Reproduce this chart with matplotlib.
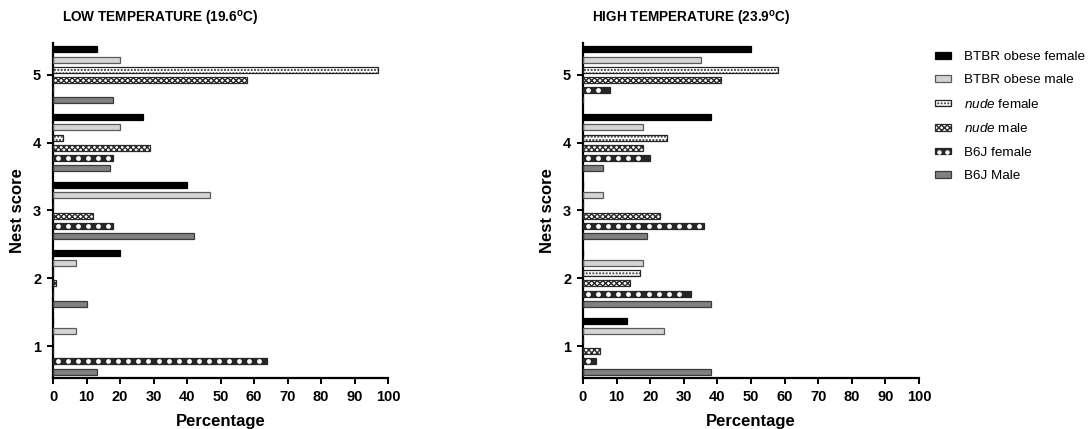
import matplotlib
matplotlib.use("Agg")
import matplotlib.pyplot as plt
import numpy as np
from matplotlib import rcParams
from matplotlib.patches import Patch
from matplotlib.lines import Line2D

rcParams['font.family'] = ['Liberation Sans', 'DejaVu Sans']
rcParams['mathtext.fontset'] = 'custom'
rcParams['mathtext.rm'] = 'Liberation Sans'
rcParams['mathtext.it'] = 'Liberation Sans:italic'
rcParams['mathtext.bf'] = 'Liberation Sans:bold'
rcParams['hatch.linewidth'] = 1.0

# nest scores (y categories)
scores = [1, 2, 3, 4, 5]

series_labels = ["BTBR obese female", "BTBR obese male", r"$\mathit{nude}$ female",
                 r"$\mathit{nude}$ male", "B6J female", "B6J Male"]

# percentages per score 1..5, low temperature (19.6 C)
low_btbr_f = [0, 20, 40, 27, 13]
low_btbr_m = [7, 7, 47, 20, 20]
low_nude_f = [0, 0, 0, 3, 97]
low_nude_m = [0, 1, 12, 29, 58]
low_b6j_f = [64, 0, 18, 18, 0]
low_b6j_m = [13, 10, 42, 17, 18]

# high temperature (23.9 C)
high_btbr_f = [13, 0, 0, 38, 50]
high_btbr_m = [24, 18, 6, 18, 35]
high_nude_f = [0, 17, 0, 25, 58]
high_nude_m = [5, 14, 23, 18, 41]
high_b6j_f = [4, 32, 36, 20, 8]
high_b6j_m = [38, 38, 19, 6, 0]

low_data = [low_btbr_f, low_btbr_m, low_nude_f, low_nude_m, low_b6j_f, low_b6j_m]
high_data = [high_btbr_f, high_btbr_m, high_nude_f, high_nude_m, high_b6j_f, high_b6j_m]

# styles: face, hatch, hatch colour, edge, white dots
styles = [
    dict(face='#000000', hatch=None, hcol='#000000', edge='#000000', dots=False),
    dict(face='#d4d4d4', hatch=None, hcol='#d4d4d4', edge='#5a5a5a', dots=False),
    dict(face='#ffffff', hatch='.....', hcol='#333333', edge='#222222', dots=False),
    dict(face='#ffffff', hatch='xxxxxx', hcol='#2a2a2a', edge='#2a2a2a', dots=False),
    dict(face='#262626', hatch=None, hcol='#262626', edge='#262626', dots=True),
    dict(face='#808080', hatch=None, hcol='#808080', edge='#3a3a3a', dots=False),
]

bar_h = 0.09
step = 0.15
dot_gap = 3.0  # spacing of the white dots along a bar (percent units)

fig = plt.figure(figsize=(10.9, 4.29), dpi=100)
ax_low = fig.add_axes([53 / 1090, 51 / 429, 335 / 1090, 335 / 429])
ax_high = fig.add_axes([583 / 1090, 51 / 429, 336 / 1090, 335 / 429])


def draw_panel(ax, data, title):
    y = np.array(scores, dtype=float)
    for i, (vals, st) in enumerate(zip(data, styles)):
        pos = y + (2.5 - i) * step
        vals = np.array(vals, dtype=float)
        ax.barh(pos, vals, height=bar_h, color=st['face'], hatch=st['hatch'],
                edgecolor=st['hcol'], linewidth=0, zorder=2)
        ax.barh(pos, vals, height=bar_h, fill=False, edgecolor=st['edge'],
                linewidth=0.9, zorder=3)
        if st['dots']:
            for p, v in zip(pos, vals):
                xs = np.arange(dot_gap / 2, v - 0.5, dot_gap)
                ax.scatter(xs, np.full_like(xs, p), s=12, c='white', linewidths=0,
                           zorder=4)
    ax.set_xlim(0, 100)
    ax.set_ylim(0.53, 5.47)
    ax.set_xticks(np.arange(0, 101, 10))
    ax.set_yticks(scores)
    for s in ['top', 'right']:
        ax.spines[s].set_visible(False)
    for s in ['left', 'bottom']:
        ax.spines[s].set_linewidth(1.6)
    ax.tick_params(axis='both', width=1.4, length=4, labelsize=10.5, pad=4.5)
    for lab in ax.get_xticklabels() + ax.get_yticklabels():
        lab.set_fontweight('bold')
    ax.set_xlabel("Percentage", fontsize=12, fontweight='bold', labelpad=7)
    ax.set_ylabel("Nest score", fontsize=12, fontweight='bold', labelpad=6)
    ax.text(0.027, 1.06, title, transform=ax.transAxes, ha='left', va='baseline',
            fontsize=9.8, fontweight='bold')


draw_panel(ax_low, low_data, r"LOW TEMPERATURE (19.6$^{\mathbf{o}}$C)")
draw_panel(ax_high, high_data, r"HIGH TEMPERATURE (23.9$^{\mathbf{o}}$C)")

handles = []
for st in styles:
    p1 = Patch(facecolor=st['face'], hatch=st['hatch'], edgecolor=st['hcol'], linewidth=0)
    p2 = Patch(fill=False, edgecolor=st['edge'], linewidth=0.9)
    if st['dots']:
        d = Line2D([], [], linestyle='none', marker='o', markersize=3.2,
                   markerfacecolor='white', markeredgewidth=0)
        handles.append((p1, p2, d))
    else:
        handles.append((p1, p2))

fig.legend(handles, series_labels, loc='upper left', bbox_to_anchor=(935 / 1090, 1 - 51 / 429),
           frameon=False, fontsize=9.7, handlelength=1.2, handleheight=0.4,
           handletextpad=0.95, labelspacing=0.85, borderpad=0, borderaxespad=0,
           numpoints=2)

fig.savefig("out.png", dpi=100)
